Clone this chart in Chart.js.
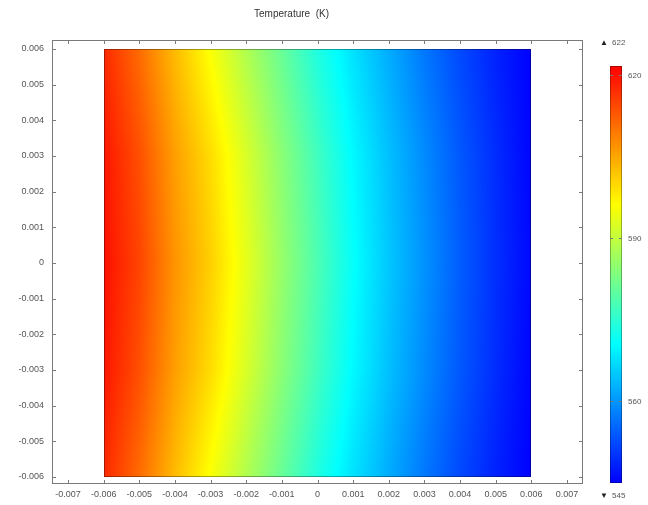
<!DOCTYPE html>
<html>
<head>
<meta charset="utf-8">
<script src="https://cdn.jsdelivr.net/npm/chart.js@4/dist/chart.umd.min.js"></script>
<style>
  body { margin: 0; background: #fff; }
  #wrap { width: 648px; height: 505px; }
</style>
</head>
<body>
<div id="wrap"><canvas id="chart" width="648" height="505"></canvas></div>
<script>
// grid positions (m) and temperatures (K)
const xGrid = [-0.006, -0.005, -0.004, -0.003, -0.002, -0.001, 0, 0.001, 0.002, 0.003, 0.004, 0.005, 0.006];
const yGrid = [-0.006, -0.003, 0, 0.003, 0.006];
const tempEdge    = [617.6, 610.9, 602.9, 595.6, 588.2, 580.9, 573.6, 567.6, 562.2, 556.9, 552.2, 548.2, 544.9];
const tempQuarter = [619.6, 613.8, 605.8, 599.6, 592.2, 584.4, 577.0, 570.0, 564.2, 558.9, 553.7, 549.3, 545.2];
const tempMid     = [620.2, 614.9, 606.9, 600.9, 593.6, 585.6, 578.2, 570.9, 564.9, 559.6, 554.2, 549.6, 545.6];
const tempRows = [tempEdge, tempQuarter, tempMid, tempQuarter, tempEdge];

const xTicks = [-0.007, -0.006, -0.005, -0.004, -0.003, -0.002, -0.001, 0, 0.001, 0.002, 0.003, 0.004, 0.005, 0.006, 0.007];
const yTicks = [-0.006, -0.005, -0.004, -0.003, -0.002, -0.001, 0, 0.001, 0.002, 0.003, 0.004, 0.005, 0.006];

const cbMin = 544.9;
const cbMax = 621.7;
const cbTicks = [560, 590, 620];
const cbMaxLabel = '622';
const cbMinLabel = '545';

const points = [];
yGrid.forEach((y, j) => {
    xGrid.forEach((x, i) => points.push({ x: x, y: y, t: tempRows[j][i] }));
});

// rainbow: blue -> cyan -> green -> yellow -> red
function rainbow(v) {
    let t = (v - cbMin) / (cbMax - cbMin);
    t = Math.max(0, Math.min(1, t));
    const s = 0.125 + 0.75 * t;
    const c = a => Math.round(255 * Math.max(0, Math.min(1, a)));
    return [c(1.5 - Math.abs(4 * s - 3)), c(1.5 - Math.abs(4 * s - 2)), c(1.5 - Math.abs(4 * s - 1))];
}

function lookup(x, y) {
    const nx = xGrid.length, ny = yGrid.length;
    let i = 0, j = 0;
    while (i < nx - 2 && x > xGrid[i + 1]) i++;
    while (j < ny - 2 && y > yGrid[j + 1]) j++;
    const fx = Math.max(0, Math.min(1, (x - xGrid[i]) / (xGrid[i + 1] - xGrid[i])));
    const fy = Math.max(0, Math.min(1, (y - yGrid[j]) / (yGrid[j + 1] - yGrid[j])));
    const a = tempRows[j][i], b = tempRows[j][i + 1];
    const c = tempRows[j + 1][i], d = tempRows[j + 1][i + 1];
    return (a * (1 - fx) + b * fx) * (1 - fy) + (c * (1 - fx) + d * fx) * fy;
}

const surfacePlugin = {
    id: 'surface',
    beforeDatasetsDraw(chart) {
        const ctx = chart.ctx;
        const xs = chart.scales.x, ys = chart.scales.y;
        const x0 = Math.round(xs.getPixelForValue(xGrid[0]));
        const x1 = Math.round(xs.getPixelForValue(xGrid[xGrid.length - 1]));
        const y0 = Math.round(ys.getPixelForValue(yGrid[yGrid.length - 1]));
        const y1 = Math.round(ys.getPixelForValue(yGrid[0]));
        const w = x1 - x0, h = y1 - y0;
        const img = ctx.createImageData(w, h);
        for (let py = 0; py < h; py++) {
            const yv = ys.getValueForPixel(y0 + py + 0.5);
            for (let px = 0; px < w; px++) {
                const xv = xs.getValueForPixel(x0 + px + 0.5);
                const col = rainbow(lookup(xv, yv));
                const k = (py * w + px) * 4;
                img.data[k] = col[0];
                img.data[k + 1] = col[1];
                img.data[k + 2] = col[2];
                img.data[k + 3] = 255;
            }
        }
        ctx.putImageData(img, x0, y0);
        ctx.save();
        ctx.strokeStyle = 'rgba(0,0,0,0.35)';
        ctx.lineWidth = 1;
        ctx.strokeRect(x0 + 0.5, y0 + 0.5, w - 1, h - 1);
        ctx.restore();
    },
    afterDraw(chart) {
        const ctx = chart.ctx;
        const area = chart.chartArea;
        const xs = chart.scales.x, ys = chart.scales.y;
        ctx.save();
        // frame and inward ticks
        ctx.strokeStyle = '#7a7a7a';
        ctx.lineWidth = 1;
        ctx.strokeRect(area.left + 0.5, area.top + 0.5, area.right - area.left - 1, area.bottom - area.top - 1);
        ctx.beginPath();
        xTicks.forEach(v => {
            const px = Math.round(xs.getPixelForValue(v)) + 0.5;
            ctx.moveTo(px, area.bottom); ctx.lineTo(px, area.bottom - 4);
            ctx.moveTo(px, area.top); ctx.lineTo(px, area.top + 4);
        });
        yTicks.forEach(v => {
            const py = Math.round(ys.getPixelForValue(v)) + 0.5;
            ctx.moveTo(area.left, py); ctx.lineTo(area.left + 4, py);
            ctx.moveTo(area.right, py); ctx.lineTo(area.right - 4, py);
        });
        ctx.stroke();

        // colour bar
        const bx = area.right + 27, bw = 12;
        const bTop = area.top + 26, bBot = area.bottom - 1;
        for (let py = bTop; py < bBot; py++) {
            const v = cbMax - (py + 0.5 - bTop) / (bBot - bTop) * (cbMax - cbMin);
            const col = rainbow(v);
            ctx.fillStyle = 'rgb(' + col.join(',') + ')';
            ctx.fillRect(bx, py, bw, 1);
        }
        ctx.strokeStyle = 'rgba(0,0,0,0.3)';
        ctx.strokeRect(bx + 0.5, bTop + 0.5, bw - 1, bBot - bTop - 1);
        ctx.fillStyle = '#555';
        ctx.font = '8px "Liberation Sans", Arial, sans-serif';
        ctx.textBaseline = 'middle';
        ctx.textAlign = 'left';
        ctx.strokeStyle = '#777';
        cbTicks.forEach(v => {
            const py = Math.round(bTop + (cbMax - v) / (cbMax - cbMin) * (bBot - bTop)) + 0.5;
            ctx.beginPath();
            ctx.moveTo(bx, py); ctx.lineTo(bx + 3, py);
            ctx.moveTo(bx + bw, py); ctx.lineTo(bx + bw - 3, py);
            ctx.stroke();
            ctx.fillText(String(v), bx + bw + 6, py);
        });
        ctx.fillStyle = '#222';
        ctx.fillText('\u25B2', bx - 10, area.top + 3);
        ctx.fillText('\u25BC', bx - 10, bBot + 13);
        ctx.fillStyle = '#555';
        ctx.fillText(cbMaxLabel, bx + 2, area.top + 3);
        ctx.fillText(cbMinLabel, bx + 2, bBot + 13);
        ctx.restore();
    }
};

const tickFont = { family: '"Liberation Sans", Arial, sans-serif', size: 9 };

new Chart(document.getElementById('chart').getContext('2d'), {
    type: 'scatter',
    data: {
        datasets: [{
            label: 'Temperature',
            data: points,
            pointRadius: 0,
            pointHoverRadius: 0
        }]
    },
    options: {
        responsive: false,
        animation: false,
        events: [],
        layout: { padding: { top: 0, right: 65, bottom: 0, left: 0 } },
        plugins: {
            legend: { display: false },
            tooltip: { enabled: false },
            title: {
                display: true,
                text: 'Temperature  (K)',
                color: '#333',
                font: { family: '"Liberation Sans", Arial, sans-serif', size: 10, weight: 'normal' },
                padding: { top: 8, bottom: 20 }
            }
        },
        scales: {
            x: {
                type: 'linear',
                min: -0.00745,
                max: 0.00745,
                afterBuildTicks: s => { s.ticks = xTicks.map(v => ({ value: v })); },
                afterFit: s => { s.height = 21; },
                grid: { display: false, drawTicks: false },
                border: { display: false },
                ticks: {
                    color: '#555',
                    font: tickFont,
                    padding: 5,
                    maxRotation: 0,
                    autoSkip: false,
                    callback: v => String(Math.round(v * 1000) / 1000)
                }
            },
            y: {
                type: 'linear',
                min: -0.0062,
                max: 0.00625,
                afterBuildTicks: s => { s.ticks = yTicks.map(v => ({ value: v })); },
                afterFit: s => { s.width = 52; },
                grid: { display: false, drawTicks: false },
                border: { display: false },
                ticks: {
                    color: '#555',
                    font: tickFont,
                    padding: 8,
                    autoSkip: false,
                    callback: v => String(Math.round(v * 1000) / 1000)
                }
            }
        }
    },
    plugins: [surfacePlugin]
});
</script>
</body>
</html>
